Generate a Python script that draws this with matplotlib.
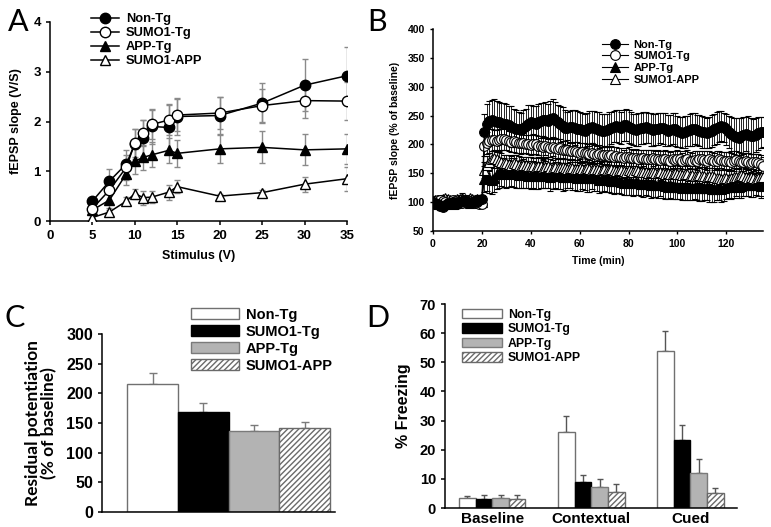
import matplotlib
matplotlib.use("Agg")
import matplotlib.pyplot as plt
import numpy as np

plt.rcParams['font.family'] = ['Liberation Sans', 'DejaVu Sans']
plt.rcParams['font.weight'] = 'bold'
plt.rcParams['axes.linewidth'] = 1.1

groups = ['Non-Tg', 'SUMO1-Tg', 'APP-Tg', 'SUMO1-APP']

# ---- panel A: input/output
stim = [5, 7, 9, 10, 11, 12, 14, 15, 20, 25, 30, 35]
io_nontg = [0.40, 0.80, 1.15, 1.55, 1.67, 1.90, 1.88, 2.10, 2.12, 2.37, 2.73, 2.92]
io_nontg_err = [0.05, 0.25, 0.28, 0.30, 0.37, 0.35, 0.47, 0.37, 0.37, 0.40, 0.52, 0.57]
io_sumo = [0.25, 0.62, 1.08, 1.57, 1.77, 1.94, 2.03, 2.13, 2.17, 2.32, 2.42, 2.41]
io_sumo_err = [0.18, 0.25, 0.25, 0.28, 0.27, 0.30, 0.30, 0.32, 0.33, 0.34, 0.35, 0.38]
io_app = [0.22, 0.42, 0.95, 1.20, 1.28, 1.33, 1.42, 1.36, 1.45, 1.48, 1.43, 1.45]
io_app_err = [0.10, 0.15, 0.22, 0.25, 0.25, 0.25, 0.25, 0.27, 0.28, 0.32, 0.31, 0.30]
io_sapp = [0.07, 0.18, 0.40, 0.55, 0.47, 0.48, 0.58, 0.69, 0.50, 0.57, 0.74, 0.85]
io_sapp_err = [0.05, 0.05, 0.08, 0.10, 0.14, 0.12, 0.15, 0.13, 0.05, 0.06, 0.15, 0.24]

# ---- panel B: LTP time course (0-20 baseline, 21-135 after HFS)
t_base = list(range(0, 21))
t_post = list(range(21, 136))
ltp_nontg = [100, 98, 96, 93, 92, 95, 97, 99, 100, 98, 97, 100, 102, 103, 101, 99, 100, 102, 101, 104, 105,
             222, 236, 240, 242, 241, 239, 238, 237, 236, 235,
             233, 231, 229, 227, 226, 225, 228, 232, 236, 238,
             237, 235, 238, 241, 243, 242, 240, 244, 246, 243,
             239, 236, 232, 229, 228, 230, 231, 229, 227, 226,
             225, 224, 226, 228, 230, 229, 227, 225, 224, 224,
             225, 227, 229, 231, 232, 231, 229, 233, 234, 231,
             228, 226, 225, 226, 228, 229, 230, 228, 226, 225,
             226, 227, 229, 228, 226, 224, 225, 227, 226, 223,
             221, 220, 221, 223, 225, 226, 227, 225, 224, 222,
             221, 220, 221, 223, 226, 229, 231, 232, 230, 226,
             222, 218, 215, 213, 212, 214, 216, 218, 217, 215,
             214, 216, 219, 221, 222]
ltp_nontg_err = [6, 5, 7, 6, 5, 6, 7, 5, 6, 6, 5, 7, 6, 8, 6, 5, 6, 7, 6, 8, 7,
                 30, 34, 36, 35, 37, 36, 35, 34, 36, 35,
                 34, 35, 33, 32, 31, 30, 31, 30, 32, 31,
                 30, 31, 32, 30, 29, 31, 30, 32, 33, 31,
                 30, 31, 32, 30, 29, 28, 29, 30, 31, 30,
                 29, 28, 29, 30, 28, 29, 30, 31, 29, 28,
                 28, 29, 28, 27, 28, 29, 28, 27, 28, 29,
                 28, 27, 28, 29, 27, 28, 27, 26, 28, 27,
                 27, 28, 26, 27, 28, 27, 26, 27, 28, 27,
                 26, 27, 28, 26, 27, 28, 27, 26, 27, 28,
                 27, 26, 27, 28, 27, 28, 27, 26, 25, 27,
                 28, 30, 31, 32, 33, 32, 31, 30, 32, 31,
                 30, 29, 28, 27, 26]
ltp_sumo = [100, 101, 103, 104, 102, 100, 99, 101, 103, 102, 100, 98, 99, 101, 103, 102, 100, 99, 98, 97, 97,
            198, 203, 206, 208, 207, 206, 207, 209, 210, 208,
            206, 205, 206, 204, 203, 202, 203, 201, 200, 199,
            201, 200, 198, 197, 196, 197, 195, 194, 195, 193,
            192, 193, 191, 190, 191, 189, 188, 189, 187, 186,
            187, 186, 185, 184, 185, 183, 182, 183, 181, 182,
            181, 180, 181, 179, 180, 178, 179, 177, 178, 179,
            177, 176, 177, 175, 176, 177, 175, 174, 175, 176,
            174, 175, 173, 174, 175, 173, 172, 174, 173, 175,
            174, 172, 173, 174, 172, 171, 173, 172, 174, 175,
            173, 172, 174, 173, 171, 172, 174, 173, 172, 171,
            172, 170, 171, 173, 172, 170, 169, 171, 170, 168,
            169, 170, 168, 166, 163]
ltp_sumo_err = [5, 6, 5, 4, 6, 5, 5, 6, 4, 5, 6, 5, 5, 4, 6, 5, 5, 6, 5, 4, 5,
                18, 19, 20, 19, 18, 19, 20, 18, 19, 18,
                17, 18, 19, 18, 17, 18, 17, 16, 17, 18,
                17, 16, 17, 18, 17, 16, 17, 16, 15, 16,
                17, 16, 15, 16, 17, 16, 15, 16, 17, 16,
                15, 16, 15, 16, 17, 16, 15, 16, 15, 16,
                15, 16, 17, 16, 15, 16, 15, 14, 15, 16,
                15, 14, 15, 16, 15, 14, 15, 16, 15, 14,
                15, 16, 15, 14, 15, 16, 15, 14, 15, 16,
                15, 14, 15, 16, 15, 14, 15, 16, 15, 14,
                15, 16, 15, 14, 15, 16, 15, 14, 15, 16,
                15, 16, 17, 16, 15, 16, 15, 14, 15, 16,
                15, 14, 15, 16, 15]
ltp_app = [98, 100, 97, 99, 101, 103, 100, 98, 96, 99, 102, 104, 108, 105, 101, 99, 100, 103, 106, 102, 104,
           140, 145, 142, 138, 141, 148, 150, 152, 151, 149,
           150, 152, 151, 148, 147, 149, 150, 148, 146, 147,
           148, 146, 145, 147, 149, 148, 146, 144, 145, 147,
           146, 145, 143, 144, 146, 147, 145, 143, 142, 144,
           145, 143, 141, 142, 144, 143, 141, 139, 140, 142,
           141, 139, 137, 136, 138, 137, 135, 134, 136, 135,
           134, 133, 135, 134, 132, 131, 133, 132, 130, 131,
           130, 129, 131, 130, 128, 127, 129, 128, 126, 127,
           126, 125, 127, 126, 124, 125, 127, 126, 125, 124,
           125, 126, 124, 123, 122, 124, 125, 123, 124, 126,
           127, 126, 128, 129, 127, 128, 130, 129, 131, 130,
           129, 131, 130, 128, 130]
ltp_app_err = [6, 7, 6, 5, 7, 6, 7, 6, 5, 6, 7, 8, 7, 6, 7, 6, 5, 7, 6, 7, 6,
               22, 25, 26, 24, 23, 25, 26, 24, 25, 24,
               23, 24, 25, 24, 23, 24, 25, 23, 22, 24,
               23, 24, 22, 23, 24, 23, 22, 24, 23, 22,
               23, 22, 24, 23, 22, 23, 24, 22, 23, 24,
               23, 22, 23, 24, 22, 23, 22, 24, 23, 22,
               23, 22, 21, 22, 23, 22, 21, 22, 23, 22,
               21, 22, 23, 22, 21, 22, 21, 22, 23, 22,
               21, 22, 21, 22, 23, 22, 21, 22, 21, 22,
               21, 22, 23, 22, 21, 22, 21, 22, 23, 22,
               22, 23, 24, 23, 22, 21, 22, 23, 22, 21,
               20, 21, 20, 19, 20, 21, 20, 19, 20, 21,
               20, 19, 20, 21, 20]
ltp_sapp = [102, 104, 101, 103, 106, 108, 105, 103, 101, 104, 106, 105, 103, 102, 104, 107, 105, 103, 101, 100, 100,
            155, 165, 170, 174, 176, 175, 172, 170, 168, 167,
            166, 165, 167, 166, 164, 163, 165, 164, 162, 163,
            162, 161, 163, 162, 160, 161, 162, 160, 159, 161,
            160, 159, 161, 160, 158, 159, 160, 158, 157, 159,
            158, 157, 159, 158, 156, 157, 158, 156, 155, 157,
            156, 155, 157, 156, 154, 155, 156, 154, 153, 155,
            154, 153, 155, 154, 152, 153, 152, 151, 153, 152,
            151, 150, 152, 151, 149, 150, 149, 148, 150, 149,
            148, 147, 149, 148, 146, 147, 146, 145, 147, 146,
            145, 144, 146, 145, 143, 142, 141, 140, 142, 141,
            140, 141, 143, 144, 146, 147, 145, 144, 142, 143,
            141, 140, 142, 143, 144]
ltp_sapp_err = [5, 6, 5, 7, 6, 5, 6, 7, 5, 6, 5, 6, 7, 6, 5, 6, 5, 6, 7, 5, 6,
                14, 15, 16, 15, 14, 15, 16, 15, 14, 15,
                16, 15, 14, 15, 16, 15, 14, 15, 16, 15,
                14, 15, 16, 15, 14, 15, 16, 15, 14, 15,
                16, 15, 14, 15, 16, 15, 14, 15, 16, 15,
                14, 15, 16, 15, 14, 15, 16, 15, 14, 15,
                16, 15, 14, 15, 16, 15, 14, 15, 16, 15,
                14, 15, 16, 15, 14, 15, 16, 15, 14, 15,
                16, 15, 14, 15, 16, 15, 14, 15, 16, 15,
                14, 15, 16, 15, 14, 15, 16, 15, 14, 15,
                16, 15, 14, 15, 16, 15, 14, 15, 16, 15,
                14, 15, 16, 15, 14, 15, 16, 15, 14, 15,
                16, 15, 14, 15, 16]

# ---- panel C: residual potentiation
resid = [215, 168, 136, 141]
resid_err = [20, 16, 11, 10]

# ---- panel D: fear conditioning
phases = ['Baseline', 'Contextual', 'Cued']
frz_nontg = [3.3, 26.2, 53.8]
frz_nontg_err = [0.9, 5.2, 7.1]
frz_sumo = [3.2, 8.9, 23.3]
frz_sumo_err = [1.1, 2.4, 5.2]
frz_app = [3.3, 7.3, 12.0]
frz_app_err = [1.2, 2.6, 4.8]
frz_sapp = [3.1, 5.5, 5.2]
frz_sapp_err = [1.4, 2.7, 1.6]

W, H = 771, 527
fig = plt.figure(figsize=(W / 100, H / 100), dpi=100)


def ax_px(l, t, r, b):
    return fig.add_axes([l / W, 1 - b / H, (r - l) / W, (b - t) / H])


def clean(ax):
    ax.spines['top'].set_visible(False)
    ax.spines['right'].set_visible(False)


letter_font = dict(fontsize=22, fontweight='normal', family=['Lato', 'DejaVu Sans'])

# bar styles (face, edge, hatch)
bar_face = ['white', 'black', '#b3b3b3', 'white']
bar_edge = ['#707070', 'black', '#7a7a7a', '#6a6a6a']
bar_hatch = [None, None, None, '//////']

line_styles = [dict(marker='o', mfc='black'), dict(marker='o', mfc='white'),
               dict(marker='^', mfc='black'), dict(marker='^', mfc='white')]

# ---------------- A
axA = ax_px(50, 22, 347, 221)
clean(axA)
io_means = [io_nontg, io_sumo, io_app, io_sapp]
io_errs = [io_nontg_err, io_sumo_err, io_app_err, io_sapp_err]
for i in range(4):
    axA.errorbar(stim, io_means[i], yerr=io_errs[i], fmt='none', ecolor='#8a8a8a',
                 elinewidth=1.0, capsize=2.5, zorder=1)
for i in [3, 2, 0, 1]:
    axA.plot(stim, io_means[i], color='black', lw=1.1, ms=7.5,
             mec='black', mew=1.0, label=groups[i], zorder=3, **line_styles[i])
axA.set_xlim(0, 35)
axA.set_ylim(0, 4)
axA.set_xticks(range(0, 36, 5))
axA.set_yticks(range(0, 5))
axA.tick_params(labelsize=9.5, length=3, width=1.1)
axA.set_xlabel('Stimulus (V)', fontsize=9, fontweight='bold', labelpad=6)
axA.set_ylabel('fEPSP slope (V/S)', fontsize=9, fontweight='bold', labelpad=8)
h, l = axA.get_legend_handles_labels()
order = [l.index(g) for g in groups]
axA.legend([h[k] for k in order], [l[k] for k in order], loc='upper left',
           bbox_to_anchor=(0.12, 1.07), frameon=False, fontsize=9.3, handlelength=2.2,
           handletextpad=0.5, labelspacing=0.15, borderaxespad=0)
fig.text(8 / W, 1 - 31 / H, 'A', **letter_font)

# ---------------- B
axB = ax_px(433, 29, 763, 231)
clean(axB)
t_all = t_base + t_post
ltp_means = [ltp_nontg, ltp_sumo, ltp_app, ltp_sapp]
ltp_errs = [ltp_nontg_err, ltp_sumo_err, ltp_app_err, ltp_sapp_err]
for i in [3, 2, 1, 0]:
    axB.errorbar(t_all, ltp_means[i], yerr=ltp_errs[i], fmt='none', ecolor='black',
                 elinewidth=0.6, capsize=2, capthick=0.8, zorder=1 + i * 0.1)
for i in [2, 3, 1, 0]:
    axB.plot(t_all, ltp_means[i], color='black', lw=0.8, ms=7, mec='black', mew=0.8,
             label=groups[i], zorder=3, **line_styles[i])
axB.set_xlim(0, 135)
axB.set_ylim(50, 400)
axB.set_xticks(range(0, 121, 20))
axB.set_yticks(range(50, 401, 50))
axB.tick_params(labelsize=7.5, length=2.5, width=1.0)
axB.set_xlabel('Time (min)', fontsize=7.5, fontweight='bold', labelpad=5)
axB.set_ylabel('fEPSP slope (% of baseline)', fontsize=7.5, fontweight='bold', labelpad=5)
h, l = axB.get_legend_handles_labels()
order = [l.index(g) for g in groups]
axB.legend([h[k] for k in order], [l[k] for k in order], loc='upper left',
           bbox_to_anchor=(0.5, 0.97), frameon=False, fontsize=8, handlelength=2.3,
           handletextpad=0.5, labelspacing=0.15, borderaxespad=0)
fig.text(367 / W, 1 - 31 / H, 'B', **letter_font)

# ---------------- C
axC = ax_px(102, 334, 335, 512)
clean(axC)
xc = np.arange(4)
for i in range(4):
    axC.bar(xc[i], resid[i], width=1.0, color=bar_face[i], edgecolor=bar_edge[i],
            hatch=bar_hatch[i], lw=1.0, label=groups[i], zorder=2)
    axC.errorbar(xc[i], resid[i], yerr=[[0], [resid_err[i]]], fmt='none', ecolor='#7a7a7a',
                 elinewidth=1.0, capsize=3, zorder=1)
axC.set_xlim(-1.0, 3.6)
axC.set_ylim(0, 300)
axC.set_yticks(range(0, 301, 50))
axC.set_xticks([])
axC.tick_params(labelsize=11.5, length=3, width=1.1)
axC.set_ylabel('Residual potentiation\n(% of baseline)', fontsize=12.5, fontweight='bold',
               family=['Lato', 'DejaVu Sans'], labelpad=6, linespacing=1.0)
axC.legend(loc='upper left', bbox_to_anchor=(0.355, 1.18), frameon=False, fontsize=10.5,
           handlelength=3.3, handleheight=0.8, handletextpad=0.5, labelspacing=0.2,
           borderaxespad=0)
fig.text(4 / W, 1 - 327 / H, 'C', **letter_font)

# ---------------- D
axD = ax_px(445, 304, 737, 508)
clean(axD)
frz_means = [frz_nontg, frz_sumo, frz_app, frz_sapp]
frz_errs = [frz_nontg_err, frz_sumo_err, frz_app_err, frz_sapp_err]
xd = np.arange(len(phases))
bw = 0.168
for i in range(4):
    pos = xd + (i - 1.5) * bw
    axD.bar(pos, frz_means[i], width=bw, color=bar_face[i], edgecolor=bar_edge[i],
            hatch=bar_hatch[i], lw=1.0, label=groups[i], zorder=2)
    axD.errorbar(pos, frz_means[i], yerr=[np.zeros(3), frz_errs[i]], fmt='none',
                 ecolor='#555555', elinewidth=1.0, capsize=2.5, zorder=1)
axD.set_xlim(-0.476, 2.47)
axD.set_ylim(0, 70)
axD.set_yticks(range(0, 71, 10))
axD.set_xticks(xd)
axD.set_xticklabels(phases, fontsize=11, fontweight='bold')
axD.tick_params(axis='x', length=0, pad=3)
axD.tick_params(axis='y', labelsize=10.5, length=3, width=1.1)
axD.set_ylabel('% Freezing', fontsize=11.5, fontweight='bold', labelpad=6)
axD.legend(loc='upper left', bbox_to_anchor=(0.04, 1.0), frameon=False, fontsize=8.8,
           handlelength=3.3, handleheight=0.8, handletextpad=0.5, labelspacing=0.2,
           borderaxespad=0)
fig.text(366 / W, 1 - 327 / H, 'D', **letter_font)

fig.savefig('out.png', dpi=100)
